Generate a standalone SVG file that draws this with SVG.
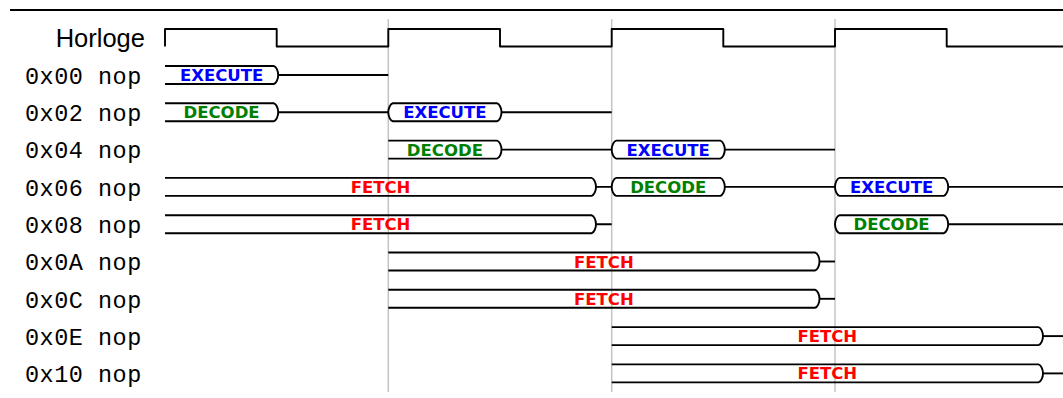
<svg xmlns="http://www.w3.org/2000/svg" width="1063" height="398" viewBox="0 0 1063 398">
<style>
.w{fill:none;stroke:#000;stroke-width:1.9;stroke-linejoin:round}
.g{stroke:#c4c4c4;stroke-width:1.5}
.lbl{font-family:"Liberation Mono",monospace;font-size:23.5px;letter-spacing:0.5px;fill:#000}
.hl{font-family:"Liberation Sans",Arial,sans-serif;font-size:25.5px;fill:#000}
.b{font-family:"DejaVu Sans",Verdana,sans-serif;font-weight:bold;font-size:16.5px;text-anchor:middle}
.ex{fill:#0000ff}.de{fill:#008000}.fe{fill:#ff0000}
</style>
<rect width="1063" height="398" fill="#fff"/>
<line x1="10" y1="10" x2="1063" y2="10" stroke="#000" stroke-width="2"/>
<g id="grid">
<line class="g" x1="388.3" y1="19" x2="388.3" y2="392"/>
<line class="g" x1="611.7" y1="19" x2="611.7" y2="392"/>
<line class="g" x1="835" y1="19" x2="835" y2="392"/>
</g>
<g id="clock">
<text class="hl" x="145" y="46.7" text-anchor="end">Horloge</text>
<path class="w" d="M165,46.5 V29 H276.7 V46.5 H388.3 V29 H500 V46.5 H611.7 V29 H723.3 V46.5 H835 V29 H946.7 V46.5 H1063"/>
</g>
<g id="r00">
<text class="lbl" x="25" y="83.7">0x00 nop</text>
<path class="w" d="M165,66 H273.7 C276.2,66.5 278.2,71 278.2,75 C278.2,79 276.2,83.5 273.7,84 H165"/>
<text class="b ex" x="221.6" y="81">EXECUTE</text>
</g>
<g id="r02">
<text class="lbl" x="25" y="121">0x02 nop</text>
<path class="w" d="M165,103.3 H273.7 C276.2,103.8 278.2,108.3 278.2,112.3 C278.2,116.3 276.2,120.8 273.7,121.3 H165"/>
<text class="b de" x="221.6" y="118.3">DECODE</text>
<path class="w" d="M388.3,112.3 C388.3,108.3 390.3,103.8 392.8,103.3 H497 C499.5,103.8 501.5,108.3 501.5,112.3 C501.5,116.3 499.5,120.8 497,121.3 H392.8 C390.3,120.8 388.3,116.3 388.3,112.3 Z"/>
<text class="b ex" x="444.9" y="118.3">EXECUTE</text>
</g>
<g id="r04">
<text class="lbl" x="25" y="158.3">0x04 nop</text>
<path class="w" d="M388.3,140.6 H497 C499.5,141.1 501.5,145.6 501.5,149.6 C501.5,153.6 499.5,158.1 497,158.6 H388.3"/>
<text class="b de" x="444.9" y="155.6">DECODE</text>
<path class="w" d="M611.7,149.6 C611.7,145.6 613.7,141.1 616.2,140.6 H720.3 C722.8,141.1 724.8,145.6 724.8,149.6 C724.8,153.6 722.8,158.1 720.3,158.6 H616.2 C613.7,158.1 611.7,153.6 611.7,149.6 Z"/>
<text class="b ex" x="668.2" y="155.6">EXECUTE</text>
</g>
<g id="r06">
<text class="lbl" x="25" y="195.6">0x06 nop</text>
<path class="w" d="M165,177.9 H591.5 C594,178.4 596,182.9 596,186.9 C596,190.9 594,195.4 591.5,195.9 H165"/>
<text class="b fe" x="380.5" y="192.9">FETCH</text>
<path class="w" d="M611.7,186.9 C611.7,182.9 613.7,178.4 616.2,177.9 H720.3 C722.8,178.4 724.8,182.9 724.8,186.9 C724.8,190.9 722.8,195.4 720.3,195.9 H616.2 C613.7,195.4 611.7,190.9 611.7,186.9 Z"/>
<text class="b de" x="668.2" y="192.9">DECODE</text>
<path class="w" d="M835,186.9 C835,182.9 837,178.4 839.5,177.9 H943.7 C946.2,178.4 948.2,182.9 948.2,186.9 C948.2,190.9 946.2,195.4 943.7,195.9 H839.5 C837,195.4 835,190.9 835,186.9 Z"/>
<text class="b ex" x="891.6" y="192.9">EXECUTE</text>
</g>
<g id="r08">
<text class="lbl" x="25" y="232.9">0x08 nop</text>
<path class="w" d="M165,215.2 H591.5 C594,215.7 596,220.2 596,224.2 C596,228.2 594,232.7 591.5,233.2 H165"/>
<text class="b fe" x="380.5" y="230.2">FETCH</text>
<path class="w" d="M835,224.2 C835,220.2 837,215.7 839.5,215.2 H943.7 C946.2,215.7 948.2,220.2 948.2,224.2 C948.2,228.2 946.2,232.7 943.7,233.2 H839.5 C837,232.7 835,228.2 835,224.2 Z"/>
<text class="b de" x="891.6" y="230.2">DECODE</text>
</g>
<g id="r0A">
<text class="lbl" x="25" y="270.2">0x0A nop</text>
<path class="w" d="M388.3,252.5 H815 C817.5,253 819.5,257.5 819.5,261.5 C819.5,265.5 817.5,270 815,270.5 H388.3"/>
<text class="b fe" x="603.9" y="267.5">FETCH</text>
</g>
<g id="r0C">
<text class="lbl" x="25" y="307.5">0x0C nop</text>
<path class="w" d="M388.3,289.8 H815 C817.5,290.3 819.5,294.8 819.5,298.8 C819.5,302.8 817.5,307.3 815,307.8 H388.3"/>
<text class="b fe" x="603.9" y="304.8">FETCH</text>
</g>
<g id="r0E">
<text class="lbl" x="25" y="344.8">0x0E nop</text>
<path class="w" d="M611.7,327.1 H1038.5 C1041,327.6 1043,332.1 1043,336.1 C1043,340.1 1041,344.6 1038.5,345.1 H611.7"/>
<text class="b fe" x="827.3" y="342.1">FETCH</text>
</g>
<g id="r10">
<text class="lbl" x="25" y="382.1">0x10 nop</text>
<path class="w" d="M611.7,364.4 H1038.5 C1041,364.9 1043,369.4 1043,373.4 C1043,377.4 1041,381.9 1038.5,382.4 H611.7"/>
<text class="b fe" x="827.3" y="379.4">FETCH</text>
</g>
<g id="connectors" class="w">
<path d="M278.2,75 H388.3"/>
<path d="M278.2,112.3 H388.3 M501.5,112.3 H611.7"/>
<path d="M501.5,149.6 H611.7 M724.8,149.6 H835"/>
<path d="M596,186.9 H611.7 M724.8,186.9 H835 M948.2,186.9 H1063"/>
<path d="M596,224.2 H611.7 M948.2,224.2 H1063"/>
<path d="M819.5,261.5 H835"/>
<path d="M819.5,298.8 H835"/>
<path d="M1043,336.1 H1063"/>
<path d="M1043,373.4 H1063"/>
</g>
</svg>
